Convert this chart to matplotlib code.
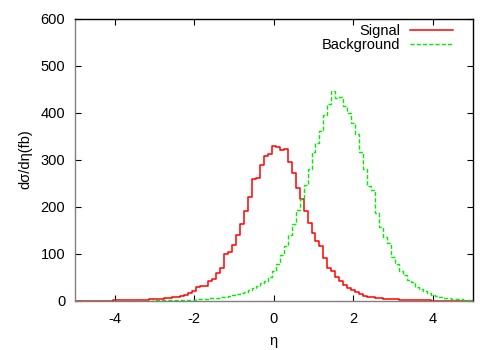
import numpy as np
import matplotlib
matplotlib.use("Agg")
import matplotlib.pyplot as plt

# bin centres of the histogram, -5 .. 5 in steps of 0.1
eta = np.round(np.arange(-50, 51) * 0.1, 1)

# d sigma / d eta (fb) per bin
signal = [
    0, 0, 0, 0, 0.1, 0.1, 0.1, 0.2, 0.2, 0.3,
    0.4, 0.5, 0.6, 0.8, 1.0, 1.2, 1.5, 1.8, 2.2, 2.6,
    3.2, 3.8, 4.5, 5.2, 6, 7, 8, 9, 13, 17,
    21, 29, 31, 32, 42, 47, 58, 70, 99, 104,
    118, 140, 164, 190, 220, 258, 260, 288, 308, 311,
    329, 326, 320, 322, 294, 272, 240, 217, 190, 166,
    143, 127, 117, 90, 69, 64, 51, 42, 33, 26,
    23, 18, 14, 10, 8, 7, 6, 5, 4, 3.5,
    3, 2.5, 2, 1.6, 1.3, 1.0, 0.8, 0.6, 0.5, 0.4,
    0.3, 0.25, 0.2, 0.15, 0.1, 0.1, 0.05, 0.05, 0, 0,
    0,
]
background = [
    0, 0, 0, 0, 0, 0, 0, 0, 0, 0,
    0, 0, 0, 0.1, 0.1, 0.1, 0.2, 0.2, 0.3, 0.3,
    0.4, 0.5, 0.6, 0.7, 0.8, 1.0, 1.2, 1.5, 1.8, 2.0,
    2.4, 2.8, 3.3, 3.9, 4.6, 5.5, 6.5, 7.5, 8.5, 10,
    12, 14, 17, 19, 23, 26, 31, 37, 42, 51,
    62, 79, 97, 116, 139, 164, 193, 217, 247, 279,
    316, 336, 361, 394, 418, 446, 432, 433, 413, 400,
    377, 354, 316, 281, 244, 235, 186, 157, 135, 122,
    92, 77, 64, 55, 44, 39, 30, 24, 21, 16,
    12, 10, 8, 6, 5, 4.5, 3.5, 3, 2, 1.5,
    1,
]

x_ticks = [-4, -2, 0, 2, 4]
y_ticks = [0, 100, 200, 300, 400, 500, 600]

plt.rcParams['font.family'] = ['Liberation Sans', 'DejaVu Sans']
plt.rcParams['font.size'] = 10.5
plt.rcParams['axes.unicode_minus'] = False

fig = plt.figure(figsize=(5, 3.5), dpi=100)
ax = fig.add_axes([0.15, 0.141, 0.795, 0.806])

ax.step(eta, signal, where='mid', color='#ff0000', lw=1.1, label='Signal')
ax.step(eta, background, where='mid', color='#00ee00', lw=1.0,
        linestyle=(0, (3, 1.5)), label='Background')

ax.set_xlim(-5, 5)
ax.set_ylim(0, 600)
ax.set_xticks(x_ticks)
ax.set_yticks(y_ticks)
ax.tick_params(direction='in', length=4, width=0.8, top=True, right=True,
               colors='black')
ax.tick_params(axis='x', pad=8)
ax.tick_params(axis='y', pad=7)

# gnuplot-like border: left/bottom drawn grey, top/right black
for side in ('left', 'bottom'):
    ax.spines[side].set_color('#808080')
    ax.spines[side].set_linewidth(1.0)
for side in ('top', 'right'):
    ax.spines[side].set_color('black')
    ax.spines[side].set_linewidth(1.0)

ax.set_xlabel('η', labelpad=6)
ax.set_ylabel('dσ/dη(fb)', labelpad=6)

ax.legend(loc='upper right', frameon=False, markerfirst=False,
          handlelength=2.9, handletextpad=0.7, labelspacing=0.0,
          borderaxespad=0.2, bbox_to_anchor=(0.972, 1.012))

fig.savefig('out.png', dpi=100)
